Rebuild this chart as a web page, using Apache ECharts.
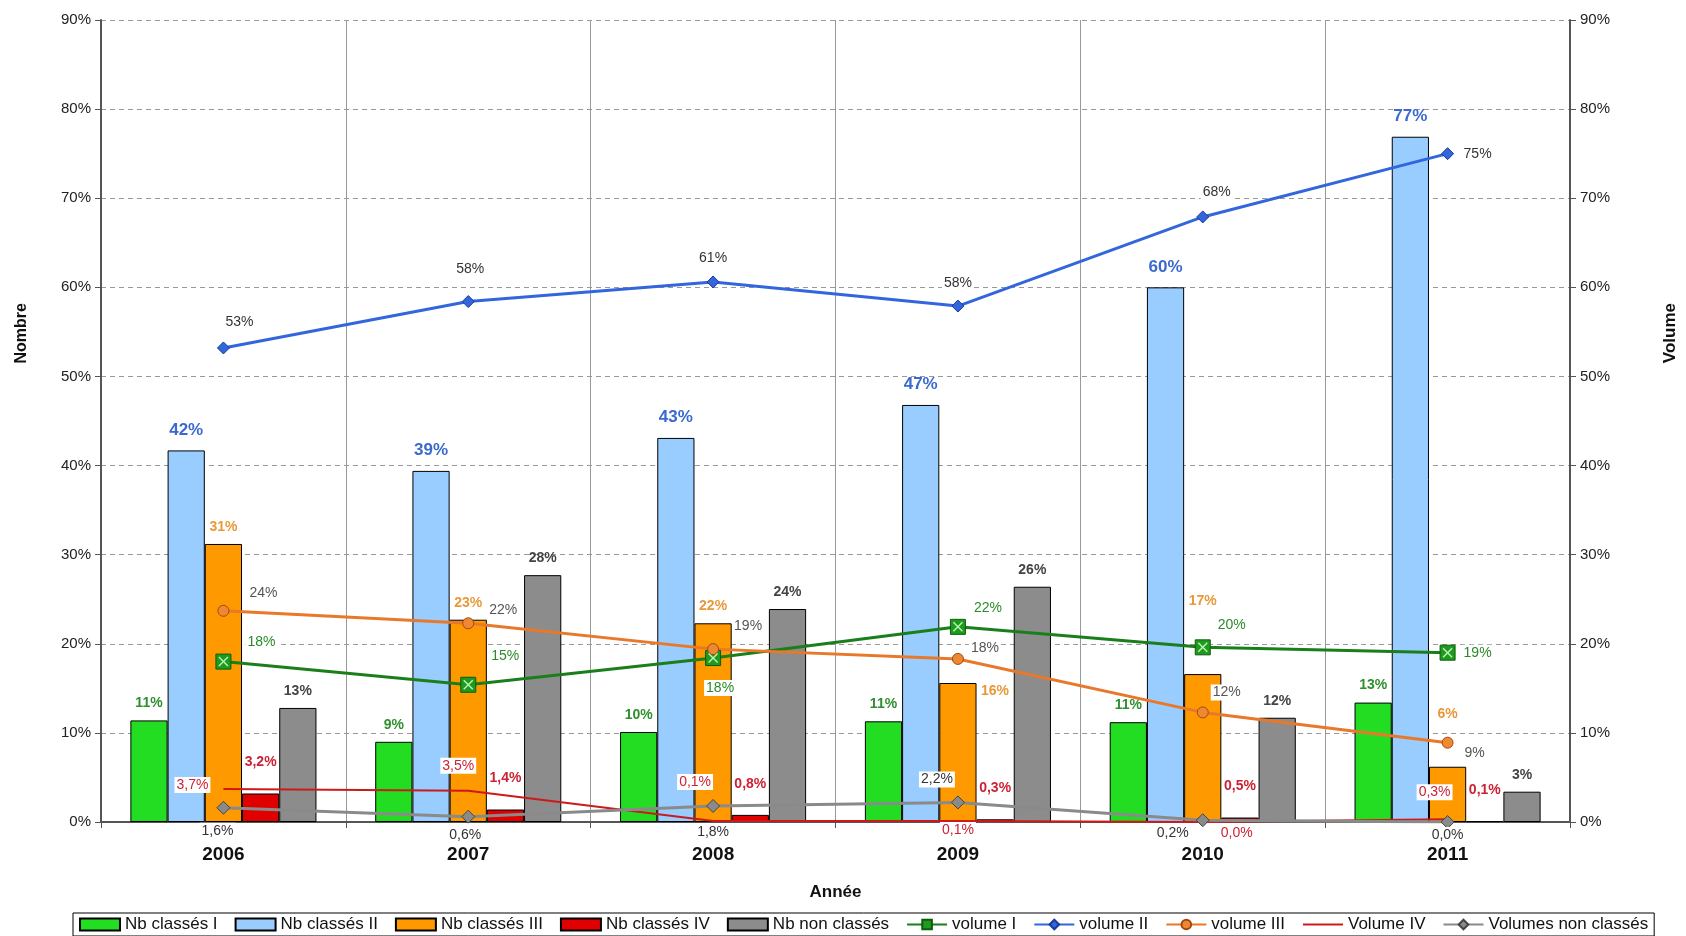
<!DOCTYPE html>
<html>
<head>
<meta charset="utf-8">
<script src="https://cdn.jsdelivr.net/npm/echarts@6/dist/echarts.min.js"></script>
<style>html,body{margin:0;padding:0;background:#fff;}#c{width:1686px;height:936px;}</style>
</head>
<body>
<div id="c"></div>
<script>
// ---- data ----
const years = ['2006', '2007', '2008', '2009', '2010', '2011'];
const nbClassesI = [11.4, 9.0, 10.1, 11.3, 11.2, 13.4];
const nbClassesII = [41.7, 39.4, 43.1, 46.8, 60.0, 76.9];
const nbClassesIII = [31.2, 22.7, 22.3, 15.6, 16.6, 6.2];
const nbClassesIV = [3.2, 1.4, 0.8, 0.3, 0.5, 0.1];
const nbNonClasses = [12.8, 27.7, 23.9, 26.4, 11.7, 3.4];
const volumeI = [18.0, 15.4, 18.4, 21.9, 19.6, 19.0];
const volumeII = [53.2, 58.4, 60.6, 57.9, 67.9, 75.0];
const volumeIII = [23.7, 22.3, 19.4, 18.3, 12.3, 8.9];
const volumeIV = [3.7, 3.5, 0.1, 0.1, 0.0, 0.3];
const volumesNonClasses = [1.6, 0.6, 1.8, 2.2, 0.2, 0.0];
const axisMin = 0, axisMax = 90, axisStep = 10;

// ---- presentation ----
const FONT = "'Liberation Sans', Arial, sans-serif";
const pct0 = v => Math.round(v) + '%';
const pct1 = v => v.toFixed(1).replace('.', ',') + '%';

const vIIOff = [[16,-26],[2,-32],[0,-24],[0,-23],[14,-25],[30,0]];
const vIOff = [[38,-19],[37,-29],[7,30],[30,-19],[29,-22],[30,0]];
const vIIIOff = [[40,-18],[35,-13],[35,-23],[27,-11],[24,-20],[27,10]];
const vIVOff = [[-31,-4],[-10,-25],[-18,-39],[0,9],[34,11],[-13,-27]];
const vNCOff = [[-6,23],[-3,18],[0,26],[-21,-23],[-30,13],[0,13]];
const orangeBarOff = [[0,0],[0,0],[0,0],[37,25],[0,-56],[0,-36]];
const X_PATH = 'path://M1,0L5,4L9,0L10,1L6,5L10,9L9,10L5,6L1,10L0,9L4,5L0,1Z';

function lineData(vals, offs) {
  return vals.map((v, i) => ({ value: v, label: { offset: offs[i] } }));
}
function barData(vals, offs) {
  return vals.map((v, i) => offs ? ({ value: v, label: { offset: offs[i] } }) : v);
}
function barSeries(name, vals, color, labelColor, fmt, fontSize, distance, offs) {
  return {
    name, type: 'bar', yAxisIndex: 0,
    barGap: '0%', barCategoryGap: '24%',
    data: barData(vals, offs),
    itemStyle: { color, borderColor: '#000', borderWidth: 1 },
    label: {
      show: true, position: 'top', distance,
      color: labelColor, fontWeight: 'bold', fontSize, fontFamily: FONT,
      formatter: p => fmt(p.value)
    },
    z: 2
  };
}
function lineSeries(name, vals, offs, color, width, symbol, symbolSize, itemStyle, labelColor, fmt) {
  return {
    name, type: 'line', yAxisIndex: 1,
    data: lineData(vals, offs),
    symbol, symbolSize,
    lineStyle: { color, width },
    itemStyle,
    label: {
      show: true, position: 'inside',
      color: labelColor, fontSize: 14, fontFamily: FONT,
      backgroundColor: '#fff', padding: [1, 2],
      formatter: p => fmt(p.value)
    },
    z: 5
  };
}

const chart = echarts.init(document.getElementById('c'));
const yAxisBase = {
  type: 'value', min: axisMin, max: axisMax, interval: axisStep,
  axisLine: { show: true, lineStyle: { color: '#555', width: 2 } },
  axisTick: { show: true, length: 6, lineStyle: { color: '#555' } },
  axisLabel: { formatter: v => v + '%', color: '#222', fontSize: 15, fontFamily: FONT, margin: 10 }
};

chart.setOption({
  animation: false,
  backgroundColor: '#fff',
  grid: { left: 101, right: 116, top: 20, bottom: 114 },
  xAxis: {
    type: 'category', data: years,
    name: 'Année', nameLocation: 'middle', nameGap: 62,
    nameTextStyle: { fontWeight: 'bold', fontSize: 17, color: '#111', fontFamily: FONT },
    axisLine: { lineStyle: { color: '#555', width: 2 } },
    axisTick: { show: true, length: 6, lineStyle: { color: '#555' } },
    axisLabel: { fontWeight: 'bold', fontSize: 19, color: '#111', fontFamily: FONT, margin: 23 },
    splitLine: { show: true, lineStyle: { color: '#999', width: 1 } }
  },
  yAxis: [
    Object.assign({}, yAxisBase, {
      position: 'left',
      splitLine: { show: true, lineStyle: { color: '#999', type: [5, 4], width: 1 } }
    }),
    Object.assign({}, yAxisBase, {
      position: 'right',
      splitLine: { show: false }
    })
  ],
  graphic: [
    { type: 'text', left: 14, top: 303, rotation: Math.PI / 2,
      style: { text: 'Nombre', font: 'bold 16px ' + FONT, fill: '#111' } },
    { type: 'text', left: 1662, top: 303, rotation: Math.PI / 2,
      style: { text: 'Volume', font: 'bold 17px ' + FONT, fill: '#111' } }
  ],
  legend: {
    bottom: 0, left: 73,
    backgroundColor: '#fff', borderColor: '#000', borderWidth: 1,
    padding: [3, 6], itemGap: 17, itemWidth: 40, itemHeight: 12,
    textStyle: { fontSize: 17, color: '#111', fontFamily: FONT },
    data: [
      { name: 'Nb classés I', icon: 'rect' },
      { name: 'Nb classés II', icon: 'rect' },
      { name: 'Nb classés III', icon: 'rect' },
      { name: 'Nb classés IV', icon: 'rect' },
      { name: 'Nb non classés', icon: 'rect' },
      'volume I', 'volume II', 'volume III', 'Volume IV', 'Volumes non classés'
    ]
  },
  series: [
    barSeries('Nb classés I', nbClassesI, '#22dd22', '#2f8f2f', pct0, 14, 10),
    barSeries('Nb classés II', nbClassesII, '#99ccff', '#3a6ad0', pct0, 17, 12),
    barSeries('Nb classés III', nbClassesIII, '#ff9900', '#e8993a', pct0, 14, 10, orangeBarOff),
    barSeries('Nb classés IV', nbClassesIV, '#e00000', '#cc2233', pct1, 14, 24),
    barSeries('Nb non classés', nbNonClasses, '#8c8c8c', '#444', pct0, 14, 10),
    lineSeries('volume I', volumeI, vIOff, '#1a7f1a', 3, 'rect', 15,
      { color: '#1f9a1f', borderColor: '#0b5d0b', borderWidth: 1 }, '#2a8a2a', pct0),
    {
      type: 'line', yAxisIndex: 1, data: volumeI, symbol: X_PATH, symbolSize: 10,
      lineStyle: { opacity: 0 }, itemStyle: { color: '#b8f5b8' }, silent: true, z: 6
    },
    lineSeries('volume II', volumeII, vIIOff, '#3366dd', 3, 'diamond', 12,
      { color: '#3366dd', borderColor: '#1a3a99', borderWidth: 1 }, '#333', pct0),
    lineSeries('volume III', volumeIII, vIIIOff, '#e8782a', 3, 'circle', 11,
      { color: '#ee8833', borderColor: '#a04a10', borderWidth: 1 }, '#555', pct0),
    lineSeries('Volume IV', volumeIV, vIVOff, '#cc1a1a', 2, 'circle', 1,
      { color: 'rgba(0,0,0,0)' }, '#cc2233', pct1),
    lineSeries('Volumes non classés', volumesNonClasses, vNCOff, '#8a8a8a', 3, 'diamond', 13,
      { color: '#8a8a8a', borderColor: '#444', borderWidth: 1 }, '#333', pct1)
  ]
});
</script>
</body>
</html>
